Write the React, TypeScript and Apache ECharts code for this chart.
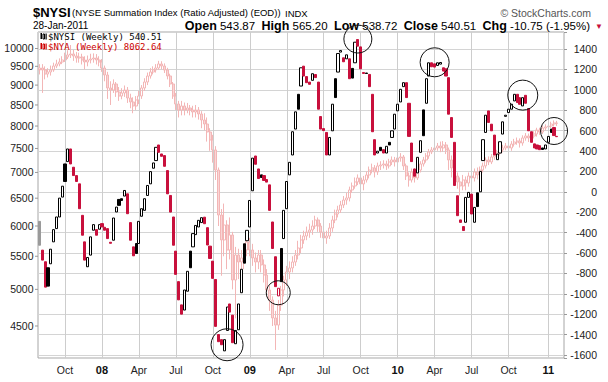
import React, { useEffect, useRef } from 'react';
import * as echarts from 'echarts';

// ---------------- data ----------------
const FIRST_WEEK_ENDING = '2007-08-03';
const TRAILING_EMPTY_WEEKS = 2;

// $NYSI weekly open / close
const nysiOpen = [
  -290, -572, -686, -745, -706, -491, -361, -247, -52, 273,
  296, 420, 241, 159, 78, -231, -491, -735, -621, -377,
  -371, -367, -312, -348, -361, -495, -475, -198, -75, -68,
  -42, -20, -302, -540, -507, -507, -240, -182, -36, 78,
  231, 306, 459, 371, 355, 208, -36, -247, -582, -881,
  -1109, -1160, -975, -582, -540, -420, -345, -302, -249, -352,
  -533, -680, -860, -1400, -1450, -1560, -1360, -1100, -1210, -1490,
  -1353, -990, -510, -480, -345, 10, 351, 224, 166, 159,
  120, 68, -296, -637, -1021, -556, -459, -166, 166, 361,
  615, 956, 1037, 1232, 1130, 1076, 1093, 1150, 1076, 738,
  620, 582, 361, 598, 1109, 1174, 1370, 1314, 1304, 1304,
  1210, 1265, 1493, 1421, 1170, 1165, 1151, 956, 511, 380,
  436, 413, 380, 485, 533, 615, 794, 881, 1031, 1070,
  868, 478, 224, 185, 387, 803, 868, 1135, 1265, 1255,
  1239, 1252, 1216, 1206, 1119, 728, 485, -39, -276, -341,
  -299, -55, -23, -299, -10, 0, 306, 582, 793, 663,
  556, 315, 380, 566, 740, 777, 810, 891, 956, 923,
  842, 946, 816, 589, 470, 459, 452, 430, 420, 485,
  615, 630, 543.87,
];
const nysiClose = [
  -524, -670, -935, -925, -563, -371, -247, -62, 55, 101,
  420, 273, 159, 101, -166, -426, -670, -644, -442, -322,
  -426, -322, -345, -377, -459, -505, -257, -150, -133, -85,
  13, -215, -475, -628, -605, -290, -166, -68, 62, 198,
  283, 436, 387, 348, 250, -20, -199, -524, -810, -1060,
  -1200, -963, -780, -745, -410, -330, -280, -254, -313, -522,
  -654, -849, -1320, -1470, -1500, -1450, -1130, -1180, -1480, -1360,
  -1100, -760, -700, -378, -85, 330, 270, 130, 140, 111,
  95, -182, -556, -930, -946, -881, -182, 101, 289, 589,
  784, 810, 1216, 1135, 1070, 1054, 1158, 1120, 810, 615,
  600, 361, 533, 859, 924, 1356, 1385, 1275, 1343, 1109,
  1115, 1467, 1428, 1206, 1160, 1160, 1031, 589, 361, 398,
  405, 380, 446, 459, 598, 761, 859, 1005, 1070, 924,
  543, 296, 153, 338, 501, 550, 1109, 1265, 1226, 1223,
  1265, 1268, 1184, 1135, 761, 533, 62, -234, -300, -380,
  -55, -6, -218, -153, -145, 200, 511, 751, 680, 598,
  361, 370, 491, 686, 751, 810, 859, 956, 875, 858,
  923, 868, 598, 485, 430, 420, 413, 415, 459, 543,
  582, 551.26, 540.51,
];

// $NYA weekly close / high / low (open = previous close)
const NYA_FIRST_OPEN = 9400;
const nyaClose = [
  9454, 9400, 9292, 9346, 9400, 9509, 9564, 9619, 9674, 9758,
  9815, 9843, 9786, 9730, 9758, 9674, 9619, 9674, 9702, 9730,
  9674, 9619, 9454, 9266, 8926, 8874, 9029, 8823, 8722, 8798,
  8874, 8672, 8573, 8475, 8623, 8722, 8926, 9081, 9239, 9346,
  9400, 9454, 9564, 9509, 9400, 9239, 9029, 8722, 8524, 8378,
  8475, 8378, 8426, 8378, 8330, 8378, 8282, 8140, 8047, 7864,
  7685, 7468, 7049, 6193, 5764, 6018, 5600, 5847, 5137, 5520,
  5410, 5473, 5600, 5731, 5600, 5473, 5410, 5520, 5364, 5211,
  4991, 4849, 4605, 4512, 4780, 4991, 5137, 5257, 5318, 5410,
  5520, 5632, 5764, 5830, 5898, 5932, 6000, 6105, 6000, 5898,
  5797, 5830, 5966, 6105, 6211, 6283, 6374, 6466, 6504, 6656,
  6733, 6811, 6890, 6772, 6850, 6949, 7049, 7091, 7009, 7132,
  7152, 7173, 7132, 7214, 7256, 7214, 7298, 7319, 7132, 6929,
  6850, 7009, 6890, 7049, 7173, 7256, 7340, 7425, 7468, 7511,
  7554, 7511, 7576, 7468, 7256, 7091, 6929, 6811, 6733, 6850,
  6791, 6929, 6890, 7009, 6949, 7049, 7132, 7256, 7214, 7319,
  7361, 7403, 7468, 7511, 7554, 7511, 7597, 7641, 7663, 7619,
  7730, 7774, 7730, 7774, 7819, 7910, 7864, 7955, 7980, 8000,
  8047, 8070, 8062.64,
];
const nyaHigh = [
  9560, 9560, 9500, 9450, 9520, 9600, 9680, 9720, 9780, 9880,
  9950, 10100, 9960, 9900, 9880, 9850, 9780, 9800, 9850, 9860,
  9840, 9780, 9700, 9520, 9350, 9100, 9150, 9080, 8950, 8920,
  8990, 8950, 8780, 8690, 8720, 8850, 9000, 9180, 9330, 9450,
  9500, 9560, 9650, 9640, 9580, 9460, 9300, 9080, 8800, 8600,
  8600, 8560, 8550, 8500, 8480, 8500, 8450, 8350, 8300, 8200,
  7950, 7800, 7550, 7100, 6300, 6400, 6100, 6150, 5900, 5650,
  5620, 5600, 5700, 5850, 5800, 5700, 5560, 5600, 5600, 5450,
  5300, 5050, 4900, 4700, 4850, 5050, 5200, 5350, 5420, 5500,
  5600, 5750, 5850, 5920, 5990, 6040, 6100, 6180, 6150, 6050,
  5950, 5920, 6050, 6180, 6290, 6360, 6450, 6540, 6600, 6720,
  6800, 6900, 6960, 6950, 6930, 7020, 7120, 7180, 7150, 7200,
  7230, 7250, 7240, 7280, 7330, 7320, 7360, 7400, 7360, 7180,
  7000, 7080, 7080, 7100, 7230, 7320, 7400, 7490, 7530, 7590,
  7620, 7650, 7660, 7640, 7520, 7350, 7150, 7000, 6900, 6950,
  6920, 7000, 7020, 7080, 7100, 7120, 7200, 7310, 7330, 7380,
  7420, 7470, 7530, 7580, 7620, 7620, 7660, 7710, 7740, 7720,
  7790, 7840, 7830, 7830, 7880, 7960, 7960, 8010, 8040, 8060,
  8100, 8130, 8120,
];
const nyaLow = [
  9280, 8800, 9150, 9200, 9250, 9350, 9450, 9500, 9560, 9620,
  9700, 9730, 9650, 9600, 9600, 9550, 9420, 9500, 9580, 9600,
  9550, 9500, 9350, 9100, 8650, 8500, 8800, 8700, 8600, 8640,
  8700, 8550, 8420, 8300, 8380, 8520, 8650, 8850, 9000, 9170,
  9280, 9330, 9400, 9420, 9320, 9150, 8950, 8650, 8380, 8200,
  8250, 8250, 8300, 8250, 8200, 8200, 8150, 7950, 7900, 7650,
  7450, 7200, 6850, 6000, 5200, 5500, 5300, 5450, 5000, 4600,
  5150, 5200, 5300, 5500, 5500, 5350, 5250, 5300, 5250, 5100,
  4900, 4700, 4500, 4200, 4450, 4700, 4900, 5050, 5150, 5250,
  5350, 5450, 5550, 5700, 5760, 5800, 5850, 5950, 5900, 5800,
  5680, 5700, 5780, 5900, 6050, 6150, 6230, 6320, 6380, 6440,
  6600, 6680, 6750, 6680, 6650, 6800, 6880, 6980, 6900, 6950,
  7050, 7080, 7050, 7080, 7150, 7120, 7160, 7220, 7050, 6850,
  6720, 6800, 6800, 6850, 7000, 7120, 7200, 7280, 7380, 7420,
  7450, 7420, 7430, 7380, 7050, 6900, 6800, 6680, 6550, 6650,
  6650, 6720, 6780, 6820, 6860, 6880, 7000, 7080, 7150, 7170,
  7260, 7300, 7350, 7420, 7460, 7440, 7450, 7540, 7580, 7520,
  7560, 7670, 7640, 7680, 7720, 7760, 7800, 7820, 7900, 7920,
  7950, 7990, 8000,
];

const nyaTickLabels = [4500, 5000, 5500, 6000, 6500, 7000, 7500, 8000, 8500, 9000, 9500, 10000];
const quarterNames: Record<number, string> = { 4: 'Apr', 7: 'Jul', 10: 'Oct' };

// annotation circles: [week index, NYSI value, radius]
const annotationCircles: [number, number, number][] = [
  [66, -1500, 16],
  [84, -990, 12],
  [112, 1498, 14],
  [139, 1270, 14.5],
  [169.5, 948, 15],
  [180.7, 596, 13.5],
];

const NYA_AXIS_MIN = 4104;
const NYA_AXIS_MAX = 10486;
const NYSI_AXIS_MIN = -1630;
const NYSI_AXIS_MAX = 1567;

const quote = { open: '543.87', high: '565.20', low: '538.72', close: '540.51', chg: '-10.75 (-1.95%)' };

// ---------------- component ----------------
export default function App() {
  const ref = useRef<HTMLDivElement>(null);

  useEffect(() => {
    if (!ref.current) return;
    const chart = echarts.init(ref.current, null, { renderer: 'svg' });
    const FONT = '"Liberation Sans", Arial, Helvetica, sans-serif';
    const MONO = '"DejaVu Sans Mono", monospace';
    const RED = '#c8103c';
    const GRID = { left: 38, right: 44, top: 32, bottom: 24 };

    const start = Date.parse(FIRST_WEEK_ENDING + 'T00:00:00Z');
    const total = nysiClose.length + TRAILING_EMPTY_WEEKS;
    const cats: string[] = [];
    for (let i = 0; i < total; i++) cats.push(new Date(start + i * 7 * 86400000).toISOString().slice(0, 10));
    const isQuarterStart = (i: number) => {
      const c = cats[i];
      if (!c) return false;
      const m = +c.slice(5, 7);
      const d = +c.slice(8, 10);
      return (m - 1) % 3 === 0 && d <= 7;
    };
    const quarterIdx = cats.map((_, i) => i).filter(isQuarterStart);

    const nysiData = nysiClose.map((c, i) => {
      const o = nysiOpen[i];
      const col = i === 0 ? '#9a9a9a' : c >= nysiClose[i - 1] ? '#000000' : RED;
      const fill = c > o ? '#ffffff' : col;
      return {
        value: [o, c, Math.min(o, c), Math.max(o, c)],
        itemStyle: { color: fill, color0: fill, borderColor: col, borderColor0: col, borderWidth: 1 },
      };
    });
    const nyaData = nyaClose.map((c, i) => [i === 0 ? NYA_FIRST_OPEN : nyaClose[i - 1], c, nyaLow[i], nyaHigh[i]]);

    const option: any = {
      animation: false,
      backgroundColor: '#ffffff',
      grid: {
        ...GRID,
        show: true,
        borderColor: '#a6a6a6',
        borderWidth: 1,
        containLabel: false,
        outerBoundsMode: 'none',
      },
      xAxis: {
        type: 'category',
        data: cats,
        boundaryGap: true,
        axisLine: { show: false },
        axisTick: {
          show: true,
          interval: (i: number) => isQuarterStart(i),
          alignWithLabel: true,
          length: 3,
          lineStyle: { color: '#999' },
        },
        axisLabel: {
          interval: (i: number) => isQuarterStart(i),
          margin: 6,
          fontFamily: FONT,
          fontSize: 10.5,
          color: '#222',
          formatter: (v: string) => {
            const m = +v.slice(5, 7);
            return m === 1 ? '{y|' + v.slice(2, 4) + '}' : quarterNames[m] || '';
          },
          rich: { y: { fontFamily: FONT, fontSize: 11, fontWeight: 'bold', color: '#111' } },
        },
        splitLine: { show: false },
      },
      yAxis: [
        {
          type: 'log',
          logBase: 10,
          min: NYA_AXIS_MIN,
          max: NYA_AXIS_MAX,
          position: 'left',
          axisLine: { show: false },
          axisTick: { show: false },
          axisLabel: { show: false },
          splitLine: { show: false },
        },
        {
          type: 'value',
          position: 'right',
          min: NYSI_AXIS_MIN,
          max: NYSI_AXIS_MAX,
          splitNumber: 16,
          axisLine: { show: false },
          axisTick: { show: true, length: 3, lineStyle: { color: '#999' } },
          axisLabel: {
            align: 'right',
            margin: 33,
            fontFamily: FONT,
            fontSize: 10.5,
            color: '#222',
            formatter: (v: number) => (Math.round(v) % 200 === 0 ? String(Math.round(v)) : ''),
          },
          splitLine: { show: true, lineStyle: { color: '#d4d4d4', width: 1 } },
        },
      ],
      series: [
        {
          name: '$NYA',
          type: 'candlestick',
          xAxisIndex: 0,
          yAxisIndex: 0,
          data: nyaData,
          barWidth: 2.5,
          z: 2,
          silent: true,
          itemStyle: {
            color: 'rgba(255,255,255,0)',
            color0: '#f9d6d6',
            borderColor: '#f3b6b6',
            borderColor0: '#f3b6b6',
            borderWidth: 1,
          },
          markLine: {
            silent: true,
            symbol: ['none', 'none'],
            label: { show: false },
            lineStyle: { color: '#cdcdcd', width: 1, type: 'solid' },
            data: quarterIdx.map((i) => ({ xAxis: cats[i] })),
            animation: false,
          },
        },
        {
          name: '$NYSI',
          type: 'candlestick',
          xAxisIndex: 0,
          yAxisIndex: 1,
          data: nysiData,
          barWidth: 2.6,
          z: 5,
          silent: true,
        },
      ],
    };
    chart.setOption(option);

    const txt = (x: number, y: number, text: string, st: any = {}) => ({
      type: 'text',
      x,
      y,
      z: 100,
      silent: true,
      style: {
        text,
        fill: '#000',
        fontFamily: FONT,
        fontSize: 11,
        align: 'left',
        verticalAlign: 'middle',
        textAlign: st.align || 'left',
        textVerticalAlign: 'middle',
        ...st,
      },
    });

    const g: any[] = [];
    // header
    g.push(txt(33, 12, '$NYSI', { fontSize: 13, fontWeight: 'bold' }));
    g.push(txt(72, 12.5, '(NYSE Summation Index (Ratio Adjusted) (EOD))', { fontSize: 9.5 }));
    g.push(txt(285, 13, 'INDX', { fontSize: 9.5 }));
    g.push(txt(591, 12.5, '\u00A9 StockCharts.com', { fontSize: 10.5, fill: '#555', align: 'right' }));
    g.push(txt(33, 25.5, '28-Jan-2011', { fontSize: 10 }));
    g.push(
      txt(
        590,
        25.5,
        `{b|Open} ${quote.open}  {b|High} ${quote.high}  {b|Low} ${quote.low}  {b|Close} ${quote.close}  {b|Chg} ${quote.chg}`,
        {
          fontSize: 11.5,
          align: 'right',
          rich: { b: { fontFamily: FONT, fontSize: 12.5, fontWeight: 'bold', fill: '#000' } },
        }
      )
    );
    g.push(txt(599, 26, '\u25BC', { fontSize: 8, fill: RED, align: 'center' }));

    // legend inside the plot
    const legendRows: [number, string, string][] = [
      [36.5, `$NYSI (Weekly) ${quote.close}`, '#000'],
      [46.5, `$NYA (Weekly) ${nyaClose[nyaClose.length - 1].toFixed(2)}`, '#cc0000'],
    ];
    legendRows.forEach(([y, t, c]) => {
      g.push({ type: 'rect', z: 100, silent: true, shape: { x: 40.5, y: y - 3.5, width: 1.5, height: 6 }, style: { fill: c } });
      g.push({ type: 'rect', z: 100, silent: true, shape: { x: 43, y: y - 2.5, width: 1.5, height: 5 }, style: { fill: 'none', stroke: c, lineWidth: 1 } });
      g.push({ type: 'rect', z: 100, silent: true, shape: { x: 45.5, y: y - 3, width: 1.2, height: 6 }, style: { fill: c } });
      g.push(txt(48, y, t, { fontFamily: MONO, fontSize: 9, fill: c }));
    });

    // left (log) axis labels
    nyaTickLabels.forEach((v) => {
      const y = chart.convertToPixel({ yAxisIndex: 0 } as any, v) as unknown as number;
      g.push(txt(GRID.left - 4.5, y, String(v), { fontSize: 10.5, fill: '#222', align: 'right' }));
      g.push({
        type: 'line',
        z: 100,
        silent: true,
        shape: { x1: GRID.left - 3, y1: y, x2: GRID.left, y2: y },
        style: { stroke: '#999', lineWidth: 1 },
      });
    });

    // annotation circles
    annotationCircles.forEach(([i, v, r]) => {
      const p = chart.convertToPixel({ xAxisIndex: 0, yAxisIndex: 1 } as any, [i, v]) as unknown as number[];
      g.push({
        type: 'circle',
        z: 100,
        silent: true,
        shape: { cx: p[0], cy: p[1], r },
        style: { fill: 'rgba(0,0,0,0)', stroke: '#111', lineWidth: 1 },
      });
    });

    chart.setOption({ graphic: g });
    return () => chart.dispose();
  }, []);

  return <div ref={ref} style={{ position: 'fixed', left: 0, top: 0, width: 608, height: 382 }} />;
}
